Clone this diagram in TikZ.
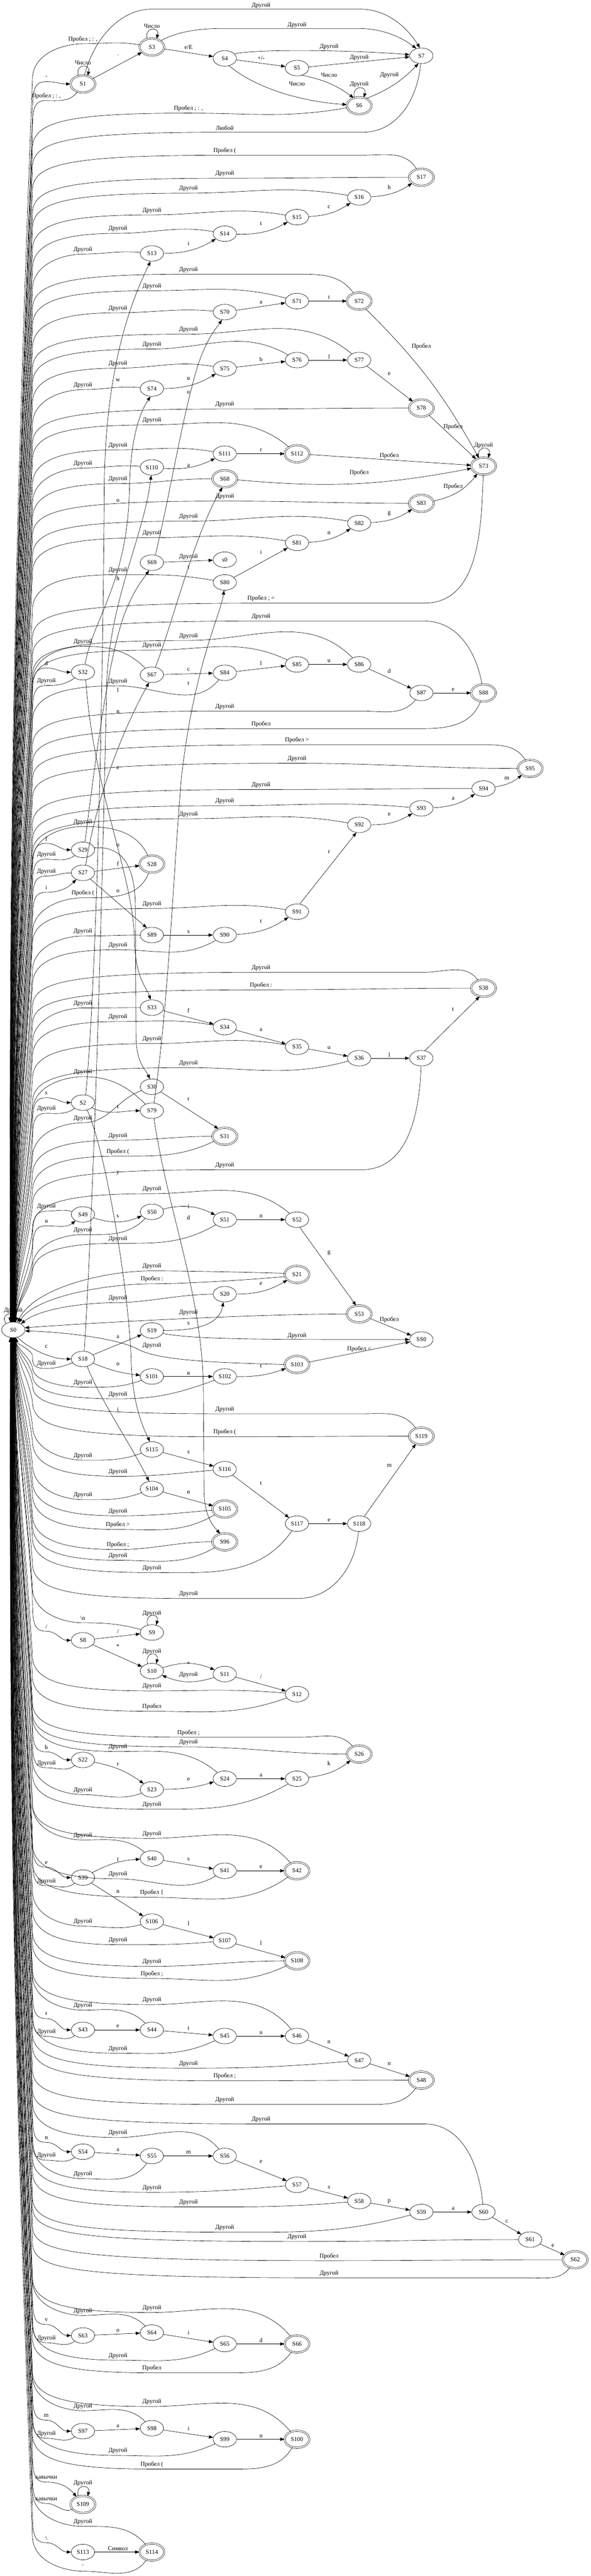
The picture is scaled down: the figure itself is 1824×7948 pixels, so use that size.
\documentclass[tikz,border=0pt]{standalone}
\usepackage{fontspec}
\setmainfont{Liberation Serif}
\usetikzlibrary{arrows.meta,shapes.geometric}
\tikzset{
 st/.style={draw, ellipse, line width=0.75pt, minimum width=54pt, minimum height=36pt, inner sep=0pt, font=\fontsize{14}{16}\selectfont},
 acc/.style={st, double, double distance=2.6pt, minimum width=57pt, minimum height=39.5pt},
 arr/.style={line width=0.75pt, -{Triangle[length=10pt,width=7.5pt]}},
 lab/.style={font=\fontsize{14}{16}\selectfont, inner sep=0pt},
}
\newcommand\mycalc[1]{%
  \pgfmathsetmacro\myLy{#1+14}%
  \pgfmathsetmacro\mySg{(\myLy>4103)?1:-1}%
  \pgfmathsetmacro\myDist{abs(\myLy-4103)}%
  \pgfmathsetmacro\myRr{min(110,0.35*\myDist)}%
  \pgfmathsetmacro\myCy{\myLy-(\mySg)*\myRr}%
  \pgfmathsetmacro\myXb{42+48*(1-min(1,\myDist/4000))}%
  \pgfmathtruncatemacro\myAng{((\mySg>0)?270:90)+(\mySg)*(\myXb-67)*0.9}%
  \pgfmathsetmacro\myEx{41+36*cos(\myAng)}%
  \pgfmathsetmacro\myEy{4103-24*sin(\myAng)}%
  \pgfmathsetmacro\myDt{abs(\myCy-\myEy)}%
  \pgfmathsetmacro\myPa{\myCy-(\mySg)*0.4*\myDt}%
  \pgfmathsetmacro\myPb{\myEy+(\mySg)*0.4*\myDt}%
  \pgfmathsetmacro\myPc{\myLy-(\mySg)*\myRr*0.25}%
}
% back edge to S0: [via x]{node}{angle}{lx}{ly}{label}
\newcommand\bk[6][]{%
  \mycalc{#5}%
  \pgfmathsetmacro\myQx{min(#4-40,200)}%
  \ifx\relax#1\relax
    \draw[arr] (#2.#3) to[out=#3,in=0] (#4,\myLy) .. controls (\myQx,\myLy) and (100,\myPc) .. (100,\myCy) .. controls (\myXb,\myPa) and (\myEx,\myPb) .. (S0.\myAng);
  \else
    \draw[arr] (#2.#3) to[out=#3,in=0] (#1,\myLy) -- (#4,\myLy) .. controls (\myQx,\myLy) and (100,\myPc) .. (100,\myCy) .. controls (\myXb,\myPa) and (\myEx,\myPb) .. (S0.\myAng);
  \fi
  \node[lab] at (#4,#5) {#6};
}
% forward edge from S0: {node}{angle}{lx}{ly}{label}
\newcommand\fw[5]{%
  \mycalc{#4}%
  \pgfmathsetmacro\myQx{min(#3-40,200)}%
  \draw[arr] (S0.\myAng) .. controls (\myEx,\myPb) and (\myXb,\myPa) .. (100,\myCy) .. controls (100,\myPc) and (\myQx,\myLy) .. (#3,\myLy) to[out=0,in=#2] (#1.#2);
  \node[lab] at (#3,#4) {#5};
}
\newcommand\myloop[4]{% node, label x, label y, label
  \draw[arr] (#1.120) .. controls +(105:30pt) and +(75:30pt) .. (#1.60);
  \node[lab] at (#2,#3) {#4};
}
\begin{document}
\begin{tikzpicture}[x=0.75pt,y=-0.75pt]
\fill[white] (0,0) rectangle (1824,7948);
\useasboundingbox (0,0) rectangle (1824,7948);
% ---------------- nodes
\node[st]  (S0) at (41,4103) {S0};
\node[acc] (S1) at (256,259) {S1};
\node[acc] (S3) at (469,145) {S3};
\node[st]  (S4) at (694,180) {S4};
\node[st]  (S5) at (917,210) {S5};
\node[acc] (S6) at (1109,326) {S6};
\node[st]  (S7) at (1301,172) {S7};
\node[acc] (S17) at (1301,547) {S17};
\node[st]  (S16) at (1109,609) {S16};
\node[st]  (S15) at (917,670) {S15};
\node[st]  (S14) at (694,721) {S14};
\node[st]  (S13) at (469,782) {S13};
\node[acc] (S72) at (1109,929) {S72};
\node[st]  (S71) at (917,929) {S71};
\node[st]  (S70) at (694,963) {S70};
\node[st]  (S77) at (1109,1111) {S77};
\node[st]  (S76) at (917,1111) {S76};
\node[st]  (S75) at (694,1137) {S75};
\node[st]  (S74) at (469,1199) {S74};
\node[acc] (S78) at (1301,1259) {S78};
\node[acc] (S112) at (917,1400) {S112};
\node[st]  (S111) at (694,1400) {S111};
\node[st]  (S110) at (469,1442) {S110};
\node[acc] (S68) at (694,1477) {S68};
\node[acc] (S73) at (1493,1438) {S73};
\node[acc] (S83) at (1301,1553) {S83};
\node[st]  (S82) at (1109,1614) {S82};
\node[st]  (S81) at (917,1675) {S81};
\node[st]  (S69) at (469,1736) {S69};
\node[st]  (sl0) at (694,1727) {s0};
\node[st]  (S80) at (694,1797) {S80};
\node[st]  (S32) at (256,2074) {S32};
\node[st]  (S67) at (469,2082) {S67};
\node[st]  (S84) at (694,2076) {S84};
\node[st]  (S85) at (917,2050) {S85};
\node[st]  (S86) at (1109,2050) {S86};
\node[st]  (S87) at (1301,2138) {S87};
\node[acc] (S88) at (1493,2138) {S88};
\node[acc] (S95) at (1637,2371) {S95};
\node[st]  (S94) at (1493,2433) {S94};
\node[st]  (S93) at (1301,2494) {S93};
\node[st]  (S92) at (1109,2545) {S92};
\node[st]  (S29) at (256,2622) {S29};
\node[acc] (S28) at (469,2666) {S28};
\node[st]  (S27) at (256,2693) {S27};
\node[st]  (S91) at (917,2813) {S91};
\node[st]  (S89) at (469,2885) {S89};
\node[st]  (S90) at (694,2885) {S90};
\node[acc] (S38) at (1493,3049) {S38};
\node[st]  (S33) at (469,3109) {S33};
\node[st]  (S34) at (694,3169) {S34};
\node[st]  (S35) at (917,3230) {S35};
\node[st]  (S36) at (1109,3265) {S36};
\node[st]  (S37) at (1301,3265) {S37};
\node[st]  (S30) at (469,3353) {S30};
\node[st]  (S2) at (256,3402) {S2};
\node[st]  (S79) at (469,3427) {S79};
\node[acc] (S31) at (694,3506) {S31};
\node[st]  (S49) at (256,3747) {S49};
\node[st]  (S50) at (469,3739) {S50};
\node[st]  (S51) at (694,3763) {S51};
\node[st]  (S52) at (917,3763) {S52};
\node[acc] (S21) at (917,3932) {S21};
\node[st]  (S20) at (694,3993) {S20};
\node[acc] (S53) at (1109,4054) {S53};
\node[st]  (S19) at (469,4105) {S19};
\node[st]  (SS0) at (1301,4133) {SS0};
\node[st]  (S18) at (256,4193) {S18};
\node[acc] (S103) at (917,4210) {S103};
\node[st]  (S101) at (469,4247) {S101};
\node[st]  (S102) at (694,4247) {S102};
\node[acc] (S119) at (1301,4431) {S119};
\node[st]  (S115) at (469,4472) {S115};
\node[st]  (S116) at (694,4533) {S116};
\node[st]  (S104) at (469,4594) {S104};
\node[acc] (S105) at (694,4656) {S105};
\node[st]  (S117) at (917,4701) {S117};
\node[st]  (S118) at (1109,4701) {S118};
\node[acc] (S96) at (694,4757) {S96};
\node[st]  (S9) at (469,5037) {S9};
\node[st]  (S8) at (256,5061) {S8};
\node[st]  (S10) at (469,5156) {S10};
\node[st]  (S11) at (694,5165) {S11};
\node[st]  (S12) at (917,5227) {S12};
\node[acc] (S26) at (1109,5412) {S26};
\node[st]  (S22) at (256,5430) {S22};
\node[st]  (S24) at (694,5488) {S24};
\node[st]  (S25) at (917,5488) {S25};
\node[st]  (S23) at (469,5521) {S23};
\node[st]  (S40) at (469,5734) {S40};
\node[st]  (S41) at (694,5772) {S41};
\node[acc] (S42) at (917,5772) {S42};
\node[st]  (S39) at (256,5793) {S39};
\node[st]  (S106) at (469,5929) {S106};
\node[st]  (S107) at (694,5988) {S107};
\node[acc] (S108) at (917,6050) {S108};
\node[st]  (S43) at (256,6263) {S43};
\node[st]  (S44) at (469,6263) {S44};
\node[st]  (S45) at (694,6282) {S45};
\node[st]  (S46) at (917,6282) {S46};
\node[st]  (S47) at (1109,6357) {S47};
\node[acc] (S48) at (1301,6418) {S48};
\node[st]  (S54) at (256,6639) {S54};
\node[st]  (S55) at (469,6652) {S55};
\node[st]  (S56) at (694,6652) {S56};
\node[st]  (S57) at (917,6741) {S57};
\node[st]  (S58) at (1109,6791) {S58};
\node[st]  (S59) at (1301,6825) {S59};
\node[st]  (S60) at (1493,6825) {S60};
\node[st]  (S61) at (1637,6910) {S61};
\node[acc] (S62) at (1776,6972) {S62};
\node[st]  (S63) at (256,7206) {S63};
\node[st]  (S64) at (469,7197) {S64};
\node[st]  (S65) at (694,7232) {S65};
\node[acc] (S66) at (917,7232) {S66};
\node[st]  (S97) at (256,7501) {S97};
\node[st]  (S98) at (469,7492) {S98};
\node[st]  (S99) at (694,7526) {S99};
\node[acc] (S100) at (917,7526) {S100};
\node[acc] (S109) at (256,7727) {S109};
\node[st]  (S113) at (256,7874) {S113};
\node[acc] (S114) at (469,7874) {S114};

% ---------------- loops
\myloop{S1}{256}{194}{Число}
\myloop{S3}{469}{81}{Число}
\myloop{S6}{1109}{261}{Другой}
\myloop{S73}{1493}{1374}{Другой}
\myloop{S9}{469}{4978}{Другой}
\myloop{S10}{469}{5096}{Другой}
\myloop{S109}{256}{7662}{Другой}
\draw[arr] (S0.140) .. controls +(120:32pt) and +(75:25pt) .. (S0.80);
\node[lab] at (41,4044) {Другой};

% ---------------- edges among states (top block)
\draw[arr] (S1) -- (S3); \node[lab] at (364,170) {.};
\draw[arr] (S1.80) .. controls (290,120) and (370,28) .. (470,28) -- (1110,28) .. controls (1200,28) and (1260,90) .. (S7.100);
\node[lab] at (806,17) {Другой};
\draw[arr] (S3.35) .. controls (540,100) and (610,88) .. (680,88) -- (1110,88) .. controls (1180,88) and (1240,115) .. (S7.125);
\node[lab] at (917,77) {Другой};
\draw[arr] (S3) -- (S4); \node[lab] at (582,145) {e/E};
\draw[arr] (S4.25) .. controls (800,150) and (1100,155) .. (S7.175); \node[lab] at (1016,145) {Другой};
\draw[arr] (S4) -- (S5); \node[lab] at (806,179) {+/-};
\draw[arr] (S5) -- (S7); \node[lab] at (1109,177) {Другой};
\draw[arr] (S5.305) to[bend left=12] (S6.125); \node[lab] at (1016,232) {Число};
\draw[arr] (S4.300) .. controls (800,280) and (950,315) .. (S6.175); \node[lab] at (917,258) {Число};
\draw[arr] (S6.45) to[bend right=12] (S7.250); \node[lab] at (1202,232) {Другой};
\draw[arr] (S13) to[bend right=15] (S14); \node[lab] at (582,751) {i};
\draw[arr] (S14) to[bend right=15] (S15); \node[lab] at (806,690) {t};
\draw[arr] (S15) to[bend right=15] (S16); \node[lab] at (1016,639) {c};
\draw[arr] (S16) to[bend right=15] (S17); \node[lab] at (1202,578) {h};
\draw[arr] (S70) -- (S71); \node[lab] at (806,932) {a};
\draw[arr] (S71) -- (S72); \node[lab] at (1016,918) {t};
\draw[arr] (S72.310) to[bend left=8] (S73.120); \node[lab] at (1301,1069) {Пробел};
\draw[arr] (S74) to[bend right=15] (S75); \node[lab] at (582,1168) {u};
\draw[arr] (S75) -- (S76); \node[lab] at (806,1108) {b};
\draw[arr] (S76) -- (S77); \node[lab] at (1016,1100) {l};
\draw[arr] (S77) -- (S78); \node[lab] at (1202,1153) {e};
\draw[arr] (S78) -- (S73); \node[lab] at (1399,1317) {Пробел};
\draw[arr] (S110) to[bend right=15] (S111); \node[lab] at (582,1437) {a};
\draw[arr] (S111) -- (S112); \node[lab] at (806,1389) {r};
\draw[arr] (S112) -- (S73); \node[lab] at (1202,1406) {Пробел};
\draw[arr] (S68) to[bend right=8] (S73); \node[lab] at (1109,1459) {Пробел};
\draw[arr] (S83) to[bend right=20] (S73); \node[lab] at (1399,1502) {Пробел};
\draw[arr] (S82) to[bend right=15] (S83); \node[lab] at (1202,1584) {g};
\draw[arr] (S81) to[bend right=15] (S82); \node[lab] at (1016,1645) {n};
\draw[arr] (S80) -- (S81); \node[lab] at (806,1704) {i};
\draw[arr] (S69) -- (sl0); \node[lab] at (582,1718) {Другой};
\draw[arr] (S67) -- (S84); \node[lab] at (582,2066) {c};
\draw[arr] (S84) -- (S85); \node[lab] at (806,2046) {l};
\draw[arr] (S85) -- (S86); \node[lab] at (1016,2040) {u};
\draw[arr] (S86) -- (S87); \node[lab] at (1202,2070) {d};
\draw[arr] (S87) -- (S88); \node[lab] at (1399,2128) {e};
\draw[arr] (S92) to[bend right=15] (S93); \node[lab] at (1202,2513) {e};
\draw[arr] (S93) to[bend right=15] (S94); \node[lab] at (1399,2463) {a};
\draw[arr] (S94) to[bend right=15] (S95); \node[lab] at (1565,2402) {m};
\draw[arr] (S91.70) -- (S92.250); \node[lab] at (1016,2629) {r};
\draw[arr] (S27) -- (S28); \node[lab] at (364,2664) {f};
\draw[arr] (S89) -- (S90); \node[lab] at (582,2875) {s};
\draw[arr] (S90) to[bend right=15] (S91); \node[lab] at (806,2843) {t};
\draw[arr] (S33) -- (S34); \node[lab] at (582,3117) {f};
\draw[arr] (S34) -- (S35); \node[lab] at (806,3178) {a};
\draw[arr] (S35) -- (S36); \node[lab] at (1016,3233) {u};
\draw[arr] (S36) -- (S37); \node[lab] at (1202,3254) {l};
\draw[arr] (S37.65) -- (S38.245); \node[lab] at (1399,3115) {t};
\draw[arr] (S30.330) -- (S31.130); \node[lab] at (582,3391) {r};
\draw[arr] (S2.330) to[out=-25,in=180] (S79.180); \node[lab] at (364,3415) {t};
\draw[arr] (S49) to[bend right=20] (S50); \node[lab] at (364,3752) {s};
\draw[arr] (S50) to[bend left=20] (S51); \node[lab] at (582,3722) {i};
\draw[arr] (S51) -- (S52); \node[lab] at (806,3752) {n};
\draw[arr] (S52.290) -- (S53.110); \node[lab] at (1016,3865) {g};
\draw[arr] (S20) to[bend right=15] (S21); \node[lab] at (806,3961) {e};
\draw[arr] (S19.0) to[out=0,in=260] (S20.260); \node[lab] at (582,4084) {s};
\draw[arr] (S19.345) .. controls (600,4133) and (800,4133) .. (SS0.180); \node[lab] at (917,4122) {Другой};
\draw[arr] (S53) -- (SS0); \node[lab] at (1202,4072) {Пробел};
\draw[arr] (S18) -- (S19); \node[lab] at (364,4124) {a};
\draw[arr] (S103) -- (SS0); \node[lab] at (1109,4163) {Пробел <};
\draw[arr] (S18) to[bend right=8] (S101); \node[lab] at (364,4209) {o};
\draw[arr] (S101) -- (S102); \node[lab] at (582,4237) {u};
\draw[arr] (S102) to[bend right=10] (S103); \node[lab] at (806,4214) {t};
\draw[arr] (S115) -- (S116); \node[lab] at (582,4481) {s};
\draw[arr] (S116) -- (S117); \node[lab] at (806,4577) {t};
\draw[arr] (S104) -- (S105); \node[lab] at (582,4604) {n};
\draw[arr] (S117) -- (S118); \node[lab] at (1016,4691) {e};
\draw[arr] (S118) -- (S119); \node[lab] at (1202,4522) {m};
\draw[arr] (S8) -- (S9); \node[lab] at (364,5033) {/};
\draw[arr] (S8) -- (S10); \node[lab] at (364,5079) {*};
\draw[arr] (S10) to[bend left=20] (S11); \node[lab] at (582,5134) {*};
\draw[arr] (S11) to[bend left=20] (S10); \node[lab] at (582,5167) {Другой};
\draw[arr] (S11) -- (S12); \node[lab] at (806,5173) {/};
\draw[arr] (S22) to[bend left=12] (S23); \node[lab] at (364,5444) {r};
\draw[arr] (S23) to[bend right=8] (S24); \node[lab] at (582,5490) {e};
\draw[arr] (S24) -- (S25); \node[lab] at (806,5477) {a};
\draw[arr] (S25) to[bend right=15] (S26); \node[lab] at (1016,5441) {k};
\draw[arr] (S39) to[bend left=12] (S40); \node[lab] at (364,5737) {l};
\draw[arr] (S40) -- (S41); \node[lab] at (582,5736) {s};
\draw[arr] (S41) -- (S42); \node[lab] at (806,5760) {e};
\draw[arr] (S39) -- (S106); \node[lab] at (364,5836) {n};
\draw[arr] (S106) -- (S107); \node[lab] at (582,5935) {l};
\draw[arr] (S107) -- (S108); \node[lab] at (806,5995) {l};
\draw[arr] (S43) -- (S44); \node[lab] at (364,6252) {e};
\draw[arr] (S44) -- (S45); \node[lab] at (582,6258) {t};
\draw[arr] (S45) -- (S46); \node[lab] at (806,6272) {u};
\draw[arr] (S46) -- (S47); \node[lab] at (1016,6300) {n};
\draw[arr] (S47) -- (S48); \node[lab] at (1202,6368) {n};
\draw[arr] (S54) -- (S55); \node[lab] at (364,6633) {a};
\draw[arr] (S55) -- (S56); \node[lab] at (582,6641) {m};
\draw[arr] (S56) -- (S57); \node[lab] at (806,6670) {e};
\draw[arr] (S57) -- (S58); \node[lab] at (1016,6749) {s};
\draw[arr] (S58) -- (S59); \node[lab] at (1202,6793) {p};
\draw[arr] (S59) -- (S60); \node[lab] at (1399,6815) {a};
\draw[arr] (S60) -- (S61); \node[lab] at (1565,6854) {c};
\draw[arr] (S61) -- (S62); \node[lab] at (1707,6929) {e};
\draw[arr] (S63) -- (S64); \node[lab] at (364,7191) {o};
\draw[arr] (S64) -- (S65); \node[lab] at (582,7197) {i};
\draw[arr] (S65) -- (S66); \node[lab] at (806,7220) {d};
\draw[arr] (S97) -- (S98); \node[lab] at (364,7485) {a};
\draw[arr] (S98) -- (S99); \node[lab] at (582,7492) {i};
\draw[arr] (S99) -- (S100); \node[lab] at (806,7516) {n};
\draw[arr] (S113) -- (S114); \node[lab] at (364,7863) {Символ};

% ---------------- long vertical edges
\draw[arr] (S2.70) .. controls (300,3000) and (318,2100) .. (322,1500) .. controls (326,1100) and (420,900) .. (S13.260);
\node[lab] at (364,1173) {w};
\draw[arr] (S32.75) .. controls (290,1900) and (395,1800) .. (400,1500) .. controls (404,1330) and (440,1260) .. (S74.260);
\node[lab] at (364,1545) {o};
\draw[arr] (S69.65) .. controls (530,1500) and (560,1300) .. (610,1130) .. controls (640,1040) and (670,1010) .. (S70.250);
\node[lab] at (582,1211) {o};
\draw[arr] (S27.70) .. controls (300,2450) and (380,2250) .. (S67.250);
\node[lab] at (364,2197) {n};
\draw[arr] (S29.75) .. controls (300,2300) and (340,2000) .. (390,1880) .. controls (420,1810) and (440,1790) .. (S69.250);
\node[lab] at (364,2129) {l};
\draw[arr] (S67.65) .. controls (540,1900) and (600,1650) .. (S68.255);
\node[lab] at (582,1750) {t};
\draw[arr] (S79.75) .. controls (520,3100) and (535,2700) .. (560,2400) .. controls (600,2050) and (680,1900) .. (S80.265);
\node[lab] at (582,2109) {r};
\draw[arr] (S18.80) .. controls (300,3500) and (320,2500) .. (330,2100) .. controls (340,1850) and (445,1650) .. (S110.265);
\node[lab] at (364,1784) {h};
\draw[arr] (S27.320) -- (S89.125);
\node[lab] at (364,2750) {o};
\draw[arr] (S32.290) .. controls (290,2450) and (412,2700) .. (415,2900) .. controls (418,3020) and (455,3050) .. (S33.100);
\node[lab] at (364,2369) {e};
\draw[arr] (S29.10) .. controls (370,2610) and (418,2660) .. (418,2800) -- (420,3200) .. controls (421,3280) and (450,3300) .. (S30.105);
\node[lab] at (364,2608) {o};
\draw[arr] (S2.300) .. controls (330,3560) and (400,4000) .. (405,4200) .. controls (410,4350) and (450,4420) .. (S115.105);
\node[lab] at (364,3619) {y};
\draw[arr] (S79.285) .. controls (520,3750) and (628,4000) .. (628,4300) -- (630,4600) .. controls (631,4680) and (660,4710) .. (S96.120);
\node[lab] at (582,3757) {d};
\draw[arr] (S18.300) .. controls (310,4320) and (400,4450) .. (S104.110);
\node[lab] at (364,4348) {i};

% ---------------- edges from S0
\fw{S1}{180}{143}{238}{-}
\fw{S32}{180}{143}{2047}{d}
\fw{S29}{180}{143}{2588}{f}
\fw{S27}{225}{143}{2739}{i}
\fw{S2}{180}{143}{3373}{s}
\fw{S49}{220}{143}{3768}{u}
\draw[arr] (S0.300) .. controls (75,4150) and (150,4194) .. (S18.180);
\node[lab] at (143,4155) {c};
\fw{S8}{180}{143}{5019}{/}
\fw{S22}{180}{143}{5391}{b}
\fw{S39}{180}{143}{5747}{e}
\fw{S43}{180}{143}{6214}{r}
\fw{S54}{180}{143}{6596}{n}
\fw{S63}{180}{143}{7158}{v}
\fw{S97}{180}{143}{7453}{m}
\fw{S109}{130}{143}{7644}{кавычки}
\fw{S113}{180}{143}{7831}{\textbackslash}

% ---------------- edges back to S0 (above)
\bk{S1}{235}{143}{296}{Пробел ; : ,}
\bk{S3}{170}{256}{121}{Пробел ; : ,}
\bk{S6}{190}{582}{335}{Пробел ; : ,}
\bk[1120]{S7}{265}{694}{394}{Любой}
\bk[1117]{S17}{120}{694}{465}{Пробел (}
\bk{S17}{180}{694}{536}{Другой}
\bk{S16}{170}{582}{582}{Другой}
\bk{S15}{170}{469}{649}{Другой}
\bk{S14}{170}{364}{706}{Другой}
\bk{S13}{175}{256}{770}{Другой}
\bk[919]{S72}{125}{582}{832}{Другой}
\bk{S71}{165}{469}{883}{Другой}
\bk{S70}{175}{364}{951}{Другой}
\bk{S77}{140}{582}{1017}{Другой}
\bk{S76}{150}{469}{1063}{Другой}
\bk{S75}{170}{364}{1122}{Другой}
\bk{S74}{175}{256}{1188}{Другой}
\bk{S78}{180}{694}{1248}{Другой}
\bk{S112}{140}{469}{1297}{Другой}
\bk{S111}{170}{364}{1374}{Другой}
\bk{S110}{175}{256}{1430}{Другой}
\bk{S68}{180}{364}{1478}{Другой}
\bk{S83}{180}{694}{1532}{Другой}
\bk{S82}{170}{582}{1594}{Другой}
\bk{S81}{170}{469}{1645}{Другой}
\bk{S80}{170}{364}{1759}{Другой}
\bk[1309]{S73}{268}{806}{1847}{Пробел ; =}
\bk[1309]{S88}{100}{806}{1902}{Другой}
\bk{S86}{135}{582}{1962}{Другой}
\bk{S67}{135}{256}{1980}{Другой}
\bk{S85}{155}{469}{1992}{Другой}
\bk{S32}{215}{143}{2101}{Другой}
\bk{S84}{230}{364}{2102}{Другой}
\bk[1117]{S87}{230}{694}{2180}{Другой}
\bk[1309]{S88}{250}{806}{2234}{Пробел}
\bk[1500]{S95}{120}{917}{2284}{Пробел >}
\bk{S95}{180}{917}{2341}{Другой}
\bk{S94}{180}{806}{2422}{Другой}
\bk{S93}{175}{694}{2472}{Другой}
\bk{S92}{170}{582}{2512}{Другой}
\bk{S28}{115}{256}{2536}{Другой}
\bk{S29}{215}{143}{2637}{Другой}
\bk{S27}{180}{143}{2689}{Другой}
\bk{S28}{250}{256}{2756}{Пробел (}
\bk{S91}{170}{469}{2789}{Другой}
\bk{S89}{180}{256}{2874}{Другой}
\bk{S90}{210}{364}{2916}{Другой}
\bk[1309]{S38}{125}{806}{2986}{Другой}
\bk{S38}{180}{806}{3040}{Пробел :}
\bk{S33}{180}{256}{3096}{Другой}
\bk{S34}{170}{364}{3138}{Другой}
\bk{S35}{170}{469}{3206}{Другой}
\bk{S36}{195}{582}{3280}{Другой}
\bk{S79}{135}{256}{3308}{Другой}
\bk{S2}{215}{143}{3421}{Другой}
\bk{S30}{200}{256}{3450}{Другой}
\bk{S31}{180}{364}{3504}{Другой}
\bk{S31}{205}{364}{3553}{Пробел (}
\bk[1117]{S37}{268}{694}{3595}{Другой}
\bk{S52}{140}{469}{3669}{Другой}
\bk{S49}{165}{143}{3723}{Другой}
\bk{S50}{225}{256}{3795}{Другой}
\bk{S51}{210}{364}{3822}{Другой}
% near S0
\draw[arr] (S21.175) .. controls (760,3925) and (560,3921) .. (469,3921) .. controls (330,3921) and (110,3970) .. (S0.62);
\node[lab] at (469,3907) {Другой};
\draw[arr] (S21.190) .. controls (760,3950) and (560,3961) .. (469,3961) .. controls (330,3961) and (110,4000) .. (S0.52);
\node[lab] at (469,3947) {Пробел :};
\draw[arr] (S20.180) .. controls (560,3993) and (450,4019) .. (364,4019) .. controls (250,4019) and (120,4040) .. (S0.38);
\node[lab] at (364,4005) {Другой};
\draw[arr] (S53.180) .. controls (800,4054) and (300,4080) .. (S0.10);
\node[lab] at (582,4050) {Другой};
\draw[arr] (S103.180) .. controls (700,4205) and (500,4200) .. (430,4165) .. controls (370,4130) and (200,4110) .. (S0.355);
\node[lab] at (469,4152) {Другой};

% ---------------- edges back to S0 (below)
\bk{S18}{200}{143}{4208}{Другой}
\bk{S101}{200}{256}{4266}{Другой}
\bk{S102}{200}{364}{4302}{Другой}
\bk[1117]{S119}{125}{694}{4348}{Другой}
\bk{S119}{180}{694}{4419}{Пробел (}
\bk{S115}{200}{256}{4491}{Другой}
\bk{S116}{185}{364}{4541}{Другой}
\bk{S104}{200}{256}{4613}{Другой}
\bk{S105}{185}{364}{4663}{Другой}
\bk{S105}{210}{364}{4705}{Пробел >}
\bk{S96}{180}{364}{4767}{Пробел ;}
\bk{S96}{210}{364}{4800}{Другой}
\bk{S117}{235}{469}{4838}{Другой}
\bk[919]{S118}{265}{582}{4918}{Другой}
\bk{S9}{165}{256}{4993}{\textbackslash n}
\bk{S12}{175}{469}{5203}{Другой}
\bk{S12}{200}{469}{5266}{Пробел}
\bk[931]{S26}{130}{582}{5346}{Пробел ;}
\bk{S26}{180}{582}{5376}{Другой}
\bk{S24}{140}{364}{5390}{Другой}
\bk{S22}{215}{143}{5440}{Другой}
\bk{S23}{200}{256}{5523}{Другой}
\bk{S25}{210}{469}{5568}{Другой}
\bk{S42}{130}{469}{5658}{Другой}
\bk{S40}{140}{256}{5663}{Другой}
\bk{S41}{210}{364}{5783}{Другой}
\bk{S39}{215}{143}{5804}{Другой}
\bk{S42}{215}{469}{5840}{Пробел \{}
\bk{S106}{195}{256}{5929}{Другой}
\bk{S107}{185}{364}{5986}{Другой}
\bk{S108}{180}{469}{6053}{Другой}
\bk{S108}{205}{469}{6090}{Пробел ;}
\bk{S46}{130}{469}{6171}{Другой}
\bk{S44}{135}{256}{6188}{Другой}
\bk{S43}{215}{143}{6269}{Другой}
\bk{S45}{205}{364}{6321}{Другой}
\bk{S47}{185}{582}{6367}{Другой}
\bk{S48}{180}{694}{6406}{Пробел ;}
\bk[1117]{S48}{235}{694}{6479}{Другой}
\bk[1309]{S60}{95}{806}{6539}{Другой}
\bk{S56}{130}{364}{6581}{Другой}
\bk{S54}{215}{143}{6651}{Другой}
\bk{S55}{235}{256}{6708}{Другой}
\bk{S57}{185}{469}{6750}{Другой}
\bk{S58}{185}{582}{6795}{Другой}
\bk{S59}{195}{694}{6873}{Другой}
\bk{S61}{180}{917}{6902}{Другой}
\bk{S62}{180}{1016}{6961}{Пробел}
\bk[1640]{S62}{235}{1016}{7014}{Другой}
\bk{S66}{130}{469}{7121}{Другой}
\bk{S64}{135}{256}{7130}{Другой}
\bk{S63}{215}{143}{7214}{Другой}
\bk{S65}{205}{364}{7268}{Другой}
\bk[698]{S66}{235}{469}{7307}{Пробел}
\bk{S100}{130}{469}{7411}{Другой}
\bk{S98}{135}{256}{7424}{Другой}
\bk{S97}{215}{143}{7509}{Другой}
\bk{S99}{205}{364}{7562}{Другой}
\bk[698]{S100}{240}{469}{7604}{Пробел (}
\bk{S109}{205}{143}{7710}{кавычки}
\bk{S114}{130}{256}{7781}{Другой}
\bk{S114}{235}{256}{7919}{\textquotesingle}
\end{tikzpicture}
\end{document}
